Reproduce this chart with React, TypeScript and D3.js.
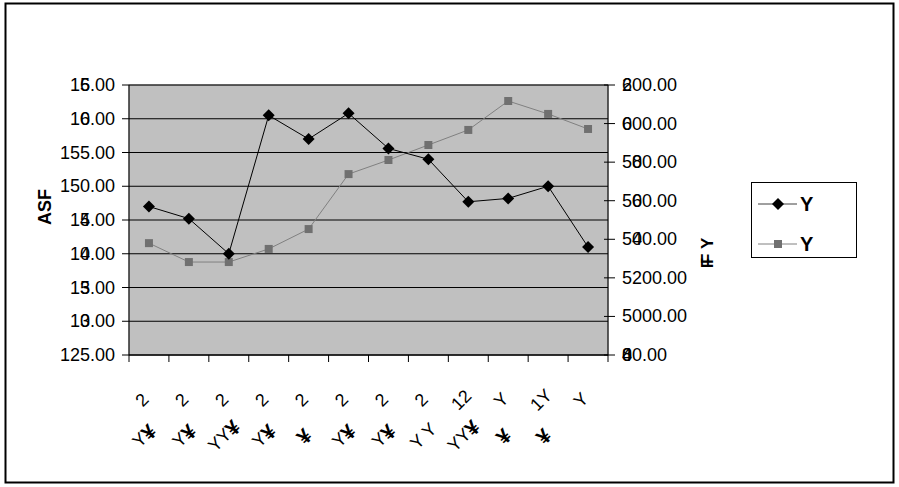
import * as d3 from 'd3';

// category labels (two lines each, as printed in the original)
const LABEL_TOP = ['2', '2', '2', '2', '2', '2', '2', '2', '12', 'Y', '1Y', 'Y'];
const LABEL_BOTTOM = ['Y¥', 'Y¥', 'YY¥', 'Y¥', '¥', 'Y¥', 'Y¥', 'Y Y', 'YY¥', '¥', '¥', ''];

// series values
const SERIES_A = [147.0, 145.2, 140.0, 160.5, 157.0, 160.8, 155.6, 154.0, 147.7, 148.2, 150.0, 141.0];
const SERIES_B = [5380, 5282, 5282, 5350, 5453, 5738, 5811, 5889, 5967, 6117, 6050, 5972];

// axis ticks; [..] marks glyphs drawn on top of each other
const LEFT_TICKS = [125, 130, 135, 140, 145, 150, 155, 160, 165];
const LEFT_LABELS = ['125.00', '1[30].00', '1[35].00', '1[40].00', '1[45].00', '150.00', '155.00', '1[60].00', '1[65].00'];
const RIGHT_TICKS = [4800, 5000, 5200, 5400, 5600, 5800, 6000, 6200];
const RIGHT_LABELS = ['[480]0.00', '5000.00', '5200.00', '5[40]0.00', '5[60]0.00', '5[80]0.00', '[60]00.00', '[62]00.00'];

const LEGEND = ['Y', 'Y'];

const W = 899;
const H = 487;
const PLOT = { left: 129, right: 608, top: 85, bottom: 355 };
const FONT = '"Liberation Sans", Arial, sans-serif';
const FS = 18;
const COLOR_A = '#000000';
const COLOR_B = '#808080';

function Garbled({ s, w }: { s: string; w: number }) {
  const out: JSX.Element[] = [];
  let i = 0;
  let k = 0;
  while (i < s.length) {
    if (s[i] === '[') {
      const end = s.indexOf(']', i);
      const grp = s.slice(i + 1, end);
      grp.split('').forEach((c, j) => {
        out.push(<tspan key={k++} dx={j === 0 ? 0 : -w}>{c}</tspan>);
      });
      i = end + 1;
    } else {
      out.push(<tspan key={k++}>{s[i]}</tspan>);
      i++;
    }
  }
  return <>{out}</>;
}

const diamond = d3.symbol(d3.symbolSquare, 72)() ?? '';
const square = d3.symbol(d3.symbolSquare, 64)() ?? '';

export default function App() {
  const idx = LABEL_TOP.map((_, i) => String(i));
  const x = d3.scaleBand<string>().domain(idx).range([PLOT.left, PLOT.right]);
  const cx = (i: number) => (x(String(i)) ?? 0) + x.bandwidth() / 2;
  const yL = d3.scaleLinear().domain([125, 165]).range([PLOT.bottom, PLOT.top]);
  const yR = d3.scaleLinear().domain([4800, 6200]).range([PLOT.bottom, PLOT.top]);

  const lineA = d3.line<number>().x((_, i) => cx(i)).y(d => yL(d))(SERIES_A) ?? '';
  const lineB = d3.line<number>().x((_, i) => cx(i)).y(d => yR(d))(SERIES_B) ?? '';
  const digitW = FS * 0.556;

  return (
    <div style={{ position: 'absolute', left: 0, top: 0 }}>
      <svg width={W} height={H} style={{ fontFamily: FONT, display: 'block', background: '#fff' }}>
        {/* outer frame */}
        <rect x={5.5} y={3.5} width={888} height={479} fill="#fff" stroke="#000" strokeWidth={2} />

        {/* plot area */}
        <rect x={PLOT.left} y={PLOT.top} width={PLOT.right - PLOT.left} height={PLOT.bottom - PLOT.top}
          fill="#c0c0c0" stroke="#808080" strokeWidth={1} />

        {/* gridlines */}
        {LEFT_TICKS.map(t => (
          <line key={t} x1={PLOT.left} x2={PLOT.right} y1={yL(t)} y2={yL(t)} stroke="#000" strokeWidth={1} />
        ))}

        {/* left axis */}
        <line x1={PLOT.left} x2={PLOT.left} y1={PLOT.top} y2={PLOT.bottom} stroke="#000" />
        {LEFT_TICKS.map((t, i) => (
          <g key={t}>
            <line x1={PLOT.left - 7} x2={PLOT.left} y1={yL(t)} y2={yL(t)} stroke="#000" />
            <text x={115} y={yL(t) + 6} fontSize={FS} textAnchor="end" fill="#000">
              <Garbled s={LEFT_LABELS[i]} w={digitW} />
            </text>
          </g>
        ))}

        {/* right axis */}
        <line x1={PLOT.right} x2={PLOT.right} y1={PLOT.top} y2={PLOT.bottom} stroke="#000" />
        {RIGHT_TICKS.map((t, i) => (
          <g key={t}>
            <line x1={PLOT.right - 4} x2={PLOT.right + 7} y1={yR(t)} y2={yR(t)} stroke="#000" />
            <text x={622} y={yR(t) + 6} fontSize={FS} fill="#000">
              <Garbled s={RIGHT_LABELS[i]} w={digitW} />
            </text>
          </g>
        ))}

        {/* x axis */}
        <line x1={PLOT.left} x2={PLOT.right} y1={PLOT.bottom} y2={PLOT.bottom} stroke="#000" />
        {d3.range(LABEL_TOP.length + 1).map(i => {
          const xx = PLOT.left + i * x.bandwidth();
          return <line key={i} x1={xx} x2={xx} y1={PLOT.bottom} y2={PLOT.bottom + 7} stroke="#000" />;
        })}
        {LABEL_TOP.map((l, i) => (
          <g key={i}>
            <text transform={`translate(${cx(i) - 7},400) rotate(-45)`} fontSize={FS}
              textAnchor="middle" dominantBaseline="central">{l}</text>
            <text transform={`translate(${cx(i) - 5},436) rotate(-45)`} fontSize={FS}
              textAnchor="middle" dominantBaseline="central">
              {LABEL_BOTTOM[i].split('').map((c, j) => (
                <tspan key={j} fontWeight={c === '¥' ? 700 : 400} fontSize={c === '¥' ? FS + 3 : FS}>{c}</tspan>
              ))}
            </text>
          </g>
        ))}

        {/* axis titles */}
        <text transform="translate(51,207) rotate(-90)" fontSize={FS} fontWeight={700} textAnchor="middle">ASF</text>
        <text transform="translate(713,253) rotate(-90)" fontSize={FS - 1} fontWeight={700} textAnchor="middle">
          <Garbled s="[FF] Y" w={6} />
        </text>

        {/* series */}
        <path d={lineB} fill="none" stroke={COLOR_B} strokeWidth={1} />
        <path d={lineA} fill="none" stroke={COLOR_A} strokeWidth={1} />
        {SERIES_B.map((v, i) => (
          <path key={i} d={square} transform={`translate(${cx(i)},${yR(v)})`} fill="#707070" />
        ))}
        {SERIES_A.map((v, i) => (
          <path key={i} d={diamond} transform={`translate(${cx(i)},${yL(v)}) rotate(45)`} fill={COLOR_A} />
        ))}

        {/* legend */}
        <rect x={751.5} y={182.5} width={105} height={75} fill="#fff" stroke="#000" strokeWidth={1} />
        {LEGEND.map((name, i) => {
          const ly = 204 + i * 40;
          const color = i === 0 ? COLOR_A : COLOR_B;
          return (
            <g key={i}>
              <line x1={758} x2={797} y1={ly} y2={ly} stroke={i === 0 ? '#404040' : COLOR_B} />
              <path d={i === 0 ? diamond : square}
                transform={`translate(778,${ly}) ${i === 0 ? 'rotate(45)' : ''}`}
                fill={i === 0 ? color : '#707070'} />
              <text x={800} y={ly + 7} fontSize={FS + 2} fontWeight={700}>{name}</text>
            </g>
          );
        })}
      </svg>
    </div>
  );
}
